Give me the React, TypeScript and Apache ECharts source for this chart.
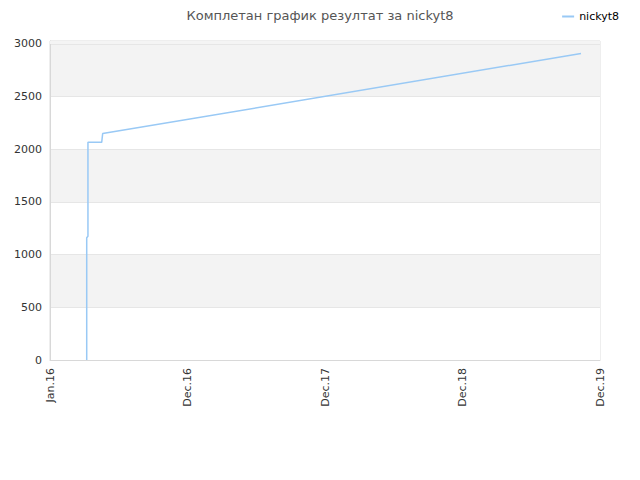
import * as echarts from "echarts";
import { useEffect, useRef } from "react";

const TITLE = "Комплетан график резултат за nickyt8";
const SERIES_NAME = "nickyt8";
const X_LABELS = ["Jan.16", "Dec.16", "Dec.17", "Dec.18", "Dec.19"];
// x in label-interval units (0 = Jan.16, 4 = Dec.19)
const X_VALUES = [0.267, 0.267, 0.276, 0.276, 0.376, 0.383, 3.862];
const Y_VALUES = [0, 1160, 1175, 2066, 2066, 2149, 2910];
const Y_MAX = 3028;

const INK = "#333333";
const LINE = "#e6e6e6";
const BAND = "#f3f3f3";
const BLUE = "#99c9f5";

export default function App() {
  const ref = useRef<HTMLDivElement>(null);

  useEffect(() => {
    document.body.style.margin = "0";
    const el = ref.current;
    if (!el) return;
    const chart = echarts.init(el, undefined, { renderer: "svg" });
    chart.setOption({
      animation: false,
      textStyle: { fontFamily: "DejaVu Sans" },
      title: {
        text: TITLE,
        left: "center",
        top: 4,
        textStyle: { color: "#555555", fontSize: 13, fontWeight: "normal" },
      },
      legend: {
        right: 16,
        top: 6,
        itemWidth: 12,
        itemHeight: 2,
        itemGap: 8,
        icon: "rect",
        textStyle: { color: "#000000", fontSize: 11 },
        data: [SERIES_NAME],
      },
      grid: { left: 50, right: 40, top: 41, bottom: 120, show: true, borderColor: "#dddddd", borderWidth: 1 },
      xAxis: {
        type: "value",
        min: 0,
        max: 4,
        interval: 1,
        axisLine: { lineStyle: { color: "#d8d8d8" } },
        axisTick: { show: false },
        splitLine: { show: false },
        axisLabel: {
          color: INK,
          fontSize: 11,
          rotate: 90,
          formatter: (v: number) => X_LABELS[Math.round(v)] ?? "",
        },
      },
      yAxis: {
        type: "value",
        min: 0,
        max: Y_MAX,
        interval: 500,
        axisLine: { show: true, lineStyle: { color: "#d8d8d8" } },
        axisTick: { show: false },
        axisLabel: {
          color: INK,
          fontSize: 11,
          formatter: (v: number) => (v % 500 === 0 ? String(v) : ""),
        },
        splitLine: { lineStyle: { color: LINE } },
        splitArea: { show: true, areaStyle: { color: ["#ffffff", BAND] } },
      },
      series: [
        {
          name: SERIES_NAME,
          type: "line",
          showSymbol: false,
          data: X_VALUES.map((x, i) => [x, Y_VALUES[i]]),
          lineStyle: { color: BLUE, width: 1.5 },
          itemStyle: { color: BLUE },
          markArea: {
            silent: true,
            itemStyle: { color: "#f4f4f4" },
            data: [[{ yAxis: 3000 }, { yAxis: Y_MAX }]],
          },
        },
      ],
    });
    return () => chart.dispose();
  }, []);

  return <div ref={ref} style={{ width: 640, height: 480 }} />;
}
